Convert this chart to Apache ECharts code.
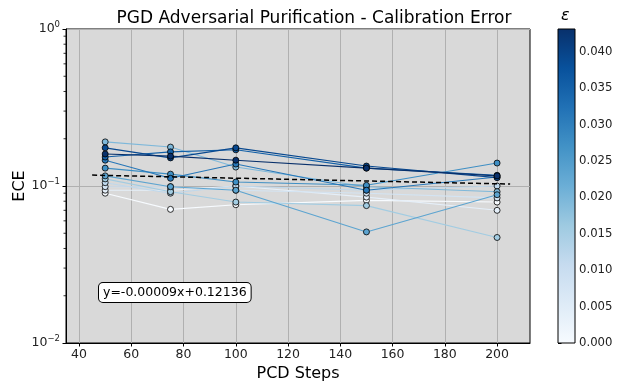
<!DOCTYPE html>
<html>
<head>
<meta charset="utf-8">
<script src="https://cdn.jsdelivr.net/npm/echarts@6/dist/echarts.min.js"></script>
<style>
  html, body { margin: 0; padding: 0; background: #fff; }
  #main { width: 617px; height: 381px; }
</style>
</head>
<body>
<div id="main"></div>
<script>
// PCD steps on the x axis
const steps = [50, 75, 100, 150, 200];
// epsilon for each run (k/255)
const epsilons = [0, 1, 2, 3, 4, 5, 6, 7, 8, 9, 10, 11].map(k => k / 255);
// ECE per epsilon, one value per step
const ece = [
  [0.090, 0.071, 0.076, 0.081, 0.079],
  [0.094, 0.094, 0.100, 0.085, 0.070],
  [0.099, 0.099, 0.094, 0.090, 0.084],
  [0.105, 0.090, 0.100, 0.094, 0.100],
  [0.111, 0.092, 0.079, 0.075, 0.047],
  [0.191, 0.177, 0.132, 0.099, 0.092],
  [0.116, 0.099, 0.094, 0.051, 0.088],
  [0.130, 0.119, 0.106, 0.101, 0.140],
  [0.146, 0.112, 0.138, 0.094, 0.114],
  [0.153, 0.165, 0.170, 0.130, 0.117],
  [0.175, 0.151, 0.175, 0.134, 0.113],
  [0.160, 0.155, 0.146, 0.130, 0.116]
];
// linear fit shown in the box
const fitSlope = -0.00009;
const fitIntercept = 0.12136;
const fitRange = [45, 205];
const epsMax = 11 / 255;

// matplotlib "Blues"
const blues = ['#f7fbff', '#deebf7', '#c6dbef', '#9ecae1', '#6baed6', '#4292c6', '#2171b5', '#08519c', '#08306b'];
function hex2rgb(h) { return [1, 3, 5].map(i => parseInt(h.substr(i, 2), 16)); }
function bluesAt(t) {
  t = Math.max(0, Math.min(1, t));
  const p = t * (blues.length - 1);
  const i = Math.min(Math.floor(p), blues.length - 2);
  const f = p - i;
  const a = hex2rgb(blues[i]), b = hex2rgb(blues[i + 1]);
  const c = a.map((v, j) => Math.round(v + (b[j] - v) * f));
  return 'rgb(' + c.join(',') + ')';
}

const font = 'DejaVu Sans';
const gLeft = 66, gRight = 87, gTop = 29, gBottom = 38;

const series = ece.map((vals, i) => {
  const col = bluesAt(epsilons[i] / epsMax);
  return {
    type: 'line',
    xAxisIndex: 0, yAxisIndex: 0,
    data: vals.map((v, j) => [steps[j], v]),
    symbol: 'circle',
    symbolSize: 6,
    lineStyle: { color: col, width: 1.1 },
    itemStyle: { color: col, borderColor: '#000', borderWidth: 0.8 },
    emphasis: { disabled: true },
    z: 3
  };
});
series.push({
  type: 'line',
  xAxisIndex: 0, yAxisIndex: 0,
  data: fitRange.map(x => [x, fitSlope * x + fitIntercept]),
  symbol: 'none',
  lineStyle: { color: '#000', width: 1.5, type: [5, 3] },
  z: 5
});

const chart = echarts.init(document.getElementById('main'));
chart.setOption({
  animation: false,
  textStyle: { fontFamily: font },
  title: {
    text: 'PGD Adversarial Purification - Calibration Error',
    left: 309, top: 5, textAlign: 'center',
    textStyle: { fontFamily: font, fontSize: 17, fontWeight: 'normal', color: '#000' }
  },
  grid: [
    { left: gLeft, right: gRight, top: gTop, bottom: gBottom, show: true, outerBoundsMode: 'none',
      backgroundColor: '#d9d9d9', borderColor: '#000', borderWidth: 1 },
    { left: 558, width: 17, top: gTop, bottom: gBottom, show: false, outerBoundsMode: 'none' }
  ],
  xAxis: [
    {
      type: 'value', gridIndex: 0, min: 35, max: 212.6, interval: 20,
      name: 'PCD Steps', nameLocation: 'middle', nameGap: 21,
      nameTextStyle: { fontSize: 16, color: '#000' },
      axisLine: { show: true, lineStyle: { color: '#000' } },
      axisTick: { show: true, length: 3.5, lineStyle: { color: '#000' },
                  customValues: [40, 60, 80, 100, 120, 140, 160, 180, 200] },
      axisLabel: { fontSize: 12.5, color: '#222', margin: 5,
                   customValues: [40, 60, 80, 100, 120, 140, 160, 180, 200] },
      splitLine: { show: true, lineStyle: { color: '#b0b0b0', width: 1 } }
    },
    { type: 'value', gridIndex: 1, show: false, min: 0, max: 1 }
  ],
  yAxis: [
    {
      type: 'log', gridIndex: 0, logBase: 10, min: 0.01, max: 1,
      name: 'ECE', nameLocation: 'middle', nameGap: 38, nameMoveOverlap: false,
      nameTextStyle: { fontSize: 16, color: '#000' },
      axisLine: { show: true, lineStyle: { color: '#000' } },
      axisTick: { show: true, length: 3.5, lineStyle: { color: '#000' } },
      axisLabel: {
        margin: 6,
        formatter: v => '{b|10}{s|' + String(Math.round(Math.log10(v))).replace('-', '−') + '}',
        rich: {
          b: { fontSize: 12.5, color: '#222', fontFamily: font },
          s: { fontSize: 8.5, color: '#222', fontFamily: font, verticalAlign: 'top', padding: [0, 0, 8, 0] }
        }
      },
      splitLine: { show: true, lineStyle: { color: '#b0b0b0', width: 1 } }
    },
    {
      type: 'value', gridIndex: 1, position: 'right', min: 0, max: epsMax, interval: 0.005,
      axisLine: { show: false },
      axisTick: { show: true, length: 3.5, lineStyle: { color: '#000' } },
      axisLabel: { fontSize: 11.7, color: '#222', margin: 4, showMaxLabel: false,
                   formatter: v => v.toFixed(3) },
      splitLine: { show: false }
    }
  ],
  graphic: [
    {
      type: 'rect', z: 10,
      shape: { x: 558, y: gTop, width: 17, height: 381 - gTop - gBottom },
      style: {
        fill: new echarts.graphic.LinearGradient(0, 1, 0, 0,
          blues.map((c, i) => ({ offset: i / (blues.length - 1), color: c }))),
        stroke: '#000', lineWidth: 1
      }
    },
    {
      type: 'text', z: 10, left: 561, top: 8,
      style: { text: 'ε', font: 'italic 16px "DejaVu Sans"', fill: '#000' }
    },
    {
      type: 'text', z: 20, left: 98, top: 282,
      style: {
        text: 'y=-0.00009x+0.12136',
        font: '12.5px "DejaVu Sans"', fill: '#000',
        backgroundColor: '#fff', borderColor: '#000', borderWidth: 1,
        borderRadius: 4, padding: [3, 4, 3, 4]
      }
    }
  ],
  series: series
});

// log minor ticks on the y axis (2..9 x 10^k)
const minor = [];
[-2, -1].forEach(k => {
  for (let m = 2; m <= 9; m++) {
    const py = chart.convertToPixel({ yAxisIndex: 0 }, m * Math.pow(10, k));
    minor.push({
      type: 'line', z: 10,
      shape: { x1: gLeft - 2.5, y1: py, x2: gLeft, y2: py },
      style: { stroke: '#000', lineWidth: 0.8 }
    });
  }
});
chart.setOption({ graphic: minor.map((g, i) => Object.assign({ id: 'mt' + i }, g)) });
</script>
</body>
</html>
